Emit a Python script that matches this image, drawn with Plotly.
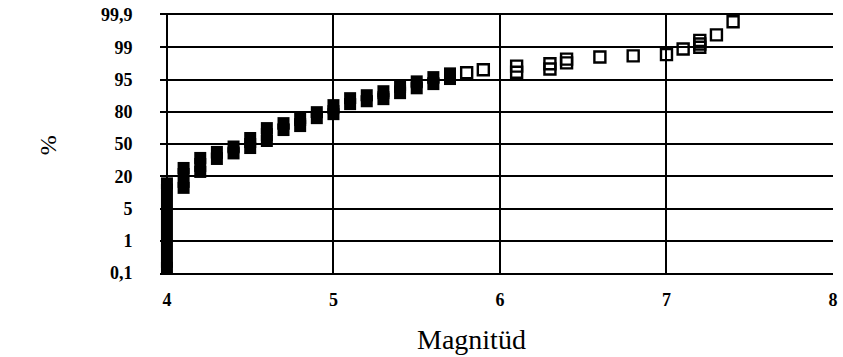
import numpy as np
import plotly.graph_objects as go
from statistics import NormalDist

# ---- data ----
# probability-axis tick values (%) and their labels
tick_pct = [0.1, 1, 5, 20, 50, 80, 95, 99, 99.9]
tick_text = ["0,1", "1", "5", "20", "50", "80", "95", "99", "99,9"]
x_ticks = [4, 5, 6, 7, 8]

# dense groups of overlapping points: magnitude, lowest and highest cumulative %
dense_mag = [4.0, 4.1, 4.2, 4.3, 4.4, 4.5, 4.6, 4.7, 4.8, 4.9,
             5.0, 5.1, 5.2, 5.3, 5.4, 5.5, 5.6, 5.7]
dense_lo = [0.15, 12.9, 23.3, 34.8, 40.3, 45.8, 53.1, 64.2, 68.0, 75.0,
            78.2, 84.9, 86.5, 87.6, 90.4, 92.3, 93.7, 95.1]
dense_hi = [15.4, 26.6, 35.8, 41.8, 47.4, 56.2, 66.1, 70.7, 75.0, 79.7,
            84.3, 88.1, 89.5, 91.2, 93.3, 94.5, 95.5, 96.2]

# separate (open) points: magnitude and cumulative %
open_mag = [5.8, 5.9, 6.1, 6.1, 6.3, 6.3, 6.4, 6.4, 6.6, 6.8, 7.0,
            7.1, 7.2, 7.2, 7.2, 7.3, 7.4]
open_pct = [96.3, 96.8, 96.4, 97.3, 96.9, 97.6, 97.7, 98.1, 98.3, 98.4, 98.5,
            98.9, 99.0, 99.19, 99.36, 99.56, 99.83]

# ---- probability scale: ticks equally spaced, probit-interpolated between ----
nd = NormalDist()
tick_z = np.array([nd.inv_cdf(p / 100.0) for p in tick_pct])
tick_pos = np.arange(len(tick_pct), dtype=float)


def to_pos(p):
    z = np.array([nd.inv_cdf(v / 100.0) for v in np.atleast_1d(p)])
    return np.interp(z, tick_z, tick_pos)


lo_pos = to_pos(dense_lo)
hi_pos = to_pos(dense_hi)
dx, dy = [], []
for m, a, b in zip(dense_mag, lo_pos, hi_pos):
    dx += [m, m, None]
    dy += [a, b, None]

# layout geometry: x=4 at 167 px, x=8 at 838 px; grid stubs reach 7 px left of x=4
L, R = 160, 5
px_per_unit = (843 - L - R) / (x_ticks[-1] - x_ticks[0] + 7 / 167.75)
x_lo = x_ticks[0] - 7 / px_per_unit

fig = go.Figure()
fig.add_trace(go.Scatter(
    x=dx, y=dy, mode="lines+markers", cliponaxis=False,
    line=dict(color="black", width=12),
    marker=dict(symbol="square", size=12, color="black",
                line=dict(width=0)),
    showlegend=False, hoverinfo="skip"))
fig.add_trace(go.Scatter(
    x=open_mag, y=to_pos(open_pct), mode="markers", cliponaxis=False,
    marker=dict(symbol="square-open", size=11, color="black",
                line=dict(width=2.4, color="black")),
    showlegend=False))

tick_font = dict(family="Liberation Serif", size=18, color="black", weight="bold")
fig.update_layout(
    width=843, height=357,
    margin=dict(l=L, r=R, t=14, b=84),
    paper_bgcolor="white", plot_bgcolor="white",
    xaxis=dict(range=[x_lo, x_ticks[-1]], tickvals=x_ticks,
               ticktext=[str(v) for v in x_ticks],
               showgrid=True, gridcolor="black", gridwidth=2,
               showline=True, linecolor="black", linewidth=2, mirror=True,
               ticks="outside", ticklen=0, ticklabelstandoff=9,
               tickfont=tick_font, zeroline=False),
    yaxis=dict(range=[0, 8], tickvals=list(tick_pos), ticktext=tick_text,
               showgrid=True, gridcolor="black", gridwidth=1.6,
               showline=False,
               ticks="outside", ticklen=0, ticklabelstandoff=23,
               tickfont=tick_font, zeroline=False),
    annotations=[
        dict(text="Magnitüd", xref="paper", yref="paper",
             x=(474 - L) / (843 - L - R), y=-(340 - 273) / 259,
             xanchor="center", yanchor="middle", showarrow=False,
             font=dict(family="Liberation Serif", size=28, color="black")),
        dict(text="%", xref="paper", yref="paper",
             x=-(L - 48) / (843 - L - R), y=(273 - 145) / 259,
             xanchor="center", yanchor="middle", showarrow=False, textangle=-90,
             font=dict(family="Liberation Serif", size=24, color="black")),
    ],
)

fig.write_html("out.html")
